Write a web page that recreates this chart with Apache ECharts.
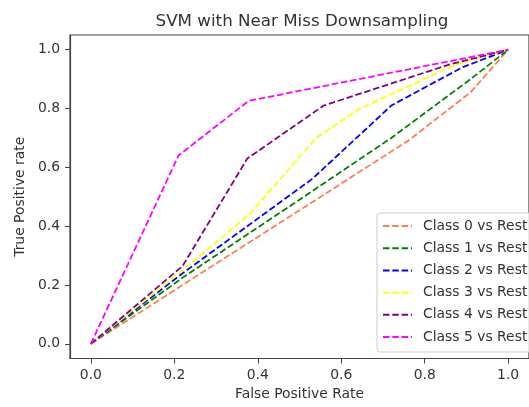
<!DOCTYPE html>
<html>
<head>
<meta charset="utf-8">
<script src="https://cdn.jsdelivr.net/npm/echarts@6/dist/echarts.min.js"></script>
<style>
  html, body { margin: 0; padding: 0; background: #fff; }
  #rocChart { width: 529px; height: 407px; }
</style>
</head>
<body>
<div id="rocChart"></div>
<script>
// tick labels
var xTicks = [0, 0.2, 0.4, 0.6, 0.8, 1.0];
var yTicks = [0, 0.2, 0.4, 0.6, 0.8, 1.0];

var classNames = ['Class 0 vs Rest', 'Class 1 vs Rest', 'Class 2 vs Rest',
                  'Class 3 vs Rest', 'Class 4 vs Rest', 'Class 5 vs Rest'];

// ROC points (fpr / tpr)
var fpr0 = [0, 0.22, 0.76, 0.91, 1];
var tpr0 = [0, 0.20, 0.69, 0.855, 1];
var fpr1 = [0, 0.22, 0.50, 0.72, 0.91, 1];
var tpr1 = [0, 0.225, 0.49, 0.70, 0.90, 1];
var fpr2 = [0, 0.22, 0.53, 0.72, 0.89, 1];
var tpr2 = [0, 0.24, 0.56, 0.81, 0.94, 1];
var fpr3 = [0, 0.22, 0.38, 0.54, 0.645, 0.875, 1];
var tpr3 = [0, 0.25, 0.44, 0.70, 0.80, 0.95, 1];
var fpr4 = [0, 0.22, 0.375, 0.558, 0.86, 1];
var tpr4 = [0, 0.265, 0.63, 0.81, 0.95, 1];
var fpr5 = [0, 0.21, 0.378, 1];
var tpr5 = [0, 0.64, 0.826, 1];

var fprList = [fpr0, fpr1, fpr2, fpr3, fpr4, fpr5];
var tprList = [tpr0, tpr1, tpr2, tpr3, tpr4, tpr5];

var lineColors = ['#ff7f50', '#008000', '#0000ff', '#ffff00', '#800080', '#ff00ff'];

var FONT = 'DejaVu Sans';
var TXT = '#333';
var AXC = '#444';

function pairs(xs, ys) {
    var out = [];
    for (var i = 0; i < xs.length; i++) out.push([xs[i], ys[i]]);
    return out;
}

var seriesList = [];
for (var k = 0; k < classNames.length; k++) {
    seriesList.push({
        name: classNames[k],
        type: 'line',
        data: pairs(fprList[k], tprList[k]),
        symbol: 'none',
        color: lineColors[k],
        lineStyle: { color: lineColors[k], width: 1.8, type: [6.5, 2.8] },
        animation: false
    });
}

var fmt = function (v) { return v.toFixed(1); };

var chart = echarts.init(document.getElementById('rocChart'));
chart.setOption({
    animation: false,
    title: {
        text: 'SVM with Near Miss Downsampling',
        left: 302,
        top: 13,
        padding: 0,
        textAlign: 'center',
        textStyle: { fontFamily: FONT, fontSize: 16.7, fontWeight: 'normal', color: TXT }
    },
    // full frame like matplotlib spines
    grid: { left: 70, top: 35, right: -12, bottom: 48.5, containLabel: false,
            show: true, borderColor: AXC, borderWidth: 1.2, backgroundColor: 'transparent' },
    legend: {
        orient: 'vertical',
        left: 377,
        top: 213,
        padding: [6, 5, 8, 5],
        itemWidth: 29,
        itemHeight: 14,
        itemGap: 8.2,
        backgroundColor: 'rgba(255,255,255,0.8)',
        borderColor: '#ccc',
        borderWidth: 1,
        borderRadius: 3,
        itemStyle: { color: 'rgba(0,0,0,0)', borderWidth: 0, opacity: 0 },
        textStyle: { fontFamily: FONT, fontSize: 13.9, color: TXT, padding: [0, 0, 0, 6] },
        data: classNames
    },
    xAxis: {
        type: 'value',
        min: -0.05,
        max: 1.05,
        name: 'False Positive Rate',
        nameLocation: 'middle',
        nameGap: 29,
        nameTextStyle: { fontFamily: FONT, fontSize: 13.9, color: TXT },
        splitLine: { show: false },
        axisLine: { show: true, onZero: false, lineStyle: { color: AXC, width: 1.2 } },
        axisTick: { show: true, customValues: xTicks, length: 5, lineStyle: { color: AXC, width: 1 } },
        axisLabel: { customValues: xTicks, formatter: fmt, margin: 10,
                     fontFamily: FONT, fontSize: 13.9, color: TXT }
    },
    yAxis: {
        type: 'value',
        min: -0.05,
        max: 1.05,
        name: 'True Positive rate',
        nameLocation: 'middle',
        nameGap: 43,
        nameTextStyle: { fontFamily: FONT, fontSize: 13.9, color: TXT },
        splitLine: { show: false },
        axisLine: { show: true, onZero: false, lineStyle: { color: AXC, width: 1.2 } },
        axisTick: { show: true, customValues: yTicks, length: 5, lineStyle: { color: AXC, width: 1 } },
        axisLabel: { customValues: yTicks, formatter: fmt, margin: 10,
                     fontFamily: FONT, fontSize: 13.9, color: TXT }
    },
    series: seriesList
});
</script>
</body>
</html>
